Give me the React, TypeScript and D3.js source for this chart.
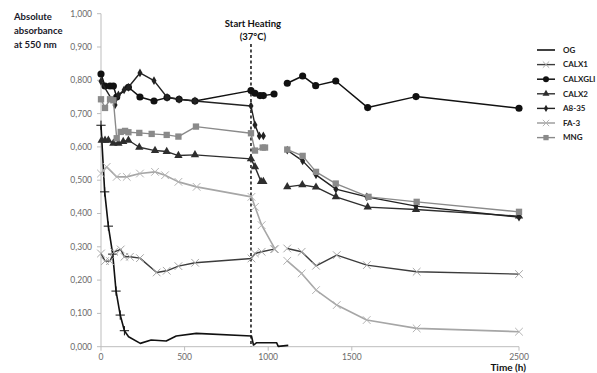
import React from 'react';
import { scaleLinear, line, symbol, symbolCircle, symbolDiamond, symbolTriangle, symbolSquare, symbolTimes, symbolPlus } from 'd3';

type Pt = [number, number | null];

// time (h), absorbance; null marks the gap in measurements
const OG: Pt[] = [[0, 0.665], [22, 0.465], [44, 0.362], [70, 0.278], [90, 0.167], [115, 0.095], [140, 0.048], [165, 0.03], [235, 0.01], [300, 0.02], [390, 0.017], [450, 0.032], [570, 0.04], [900, 0.032], [912, 0.005], [931, 0.012], [1050, 0.012], [1060, 0.001], [1120, 0.004]];
const CALX1: Pt[] = [[0, 0.28], [24, 0.257], [54, 0.257], [78, 0.285], [118, 0.292], [140, 0.27], [173, 0.27], [233, 0.266], [333, 0.223], [393, 0.228], [463, 0.242], [563, 0.252], [900, 0.265], [921, 0.28], [961, 0.285], [1035, 0.293], [1070, null], [1114, 0.295], [1200, 0.285], [1286, 0.243], [1410, 0.275], [1590, 0.245], [1888, 0.225], [2500, 0.218]];
const CALXGLI: Pt[] = [[0, 0.819], [24, 0.783], [54, 0.783], [74, 0.783], [94, 0.75], [164, 0.779], [233, 0.75], [317, 0.738], [395, 0.748], [467, 0.743], [562, 0.738], [897, 0.769], [921, 0.761], [951, 0.754], [971, 0.754], [1035, 0.759], [1070, null], [1114, 0.791], [1206, 0.813], [1284, 0.784], [1404, 0.798], [1595, 0.718], [1884, 0.751], [2500, 0.716]];
const CALX2: Pt[] = [[4, 0.62], [24, 0.62], [44, 0.62], [74, 0.611], [104, 0.611], [133, 0.616], [164, 0.62], [229, 0.599], [323, 0.589], [393, 0.586], [463, 0.574], [562, 0.576], [897, 0.564], [921, 0.54], [957, 0.496], [971, 0.496], [1040, null], [1114, 0.48], [1204, 0.486], [1286, 0.479], [1405, 0.45], [1595, 0.419], [1884, 0.412], [2500, 0.392]];
const A835: Pt[] = [[0, 0.797], [84, 0.726], [104, 0.756], [138, 0.771], [164, 0.779], [233, 0.822], [317, 0.799], [395, 0.749], [467, 0.743], [562, 0.738], [897, 0.723], [921, 0.666], [947, 0.633], [971, 0.633], [1040, null], [1114, 0.59], [1206, 0.558], [1286, 0.516], [1405, 0.473], [1590, 0.45], [1884, 0.422], [2500, 0.389]];
const FA3: Pt[] = [[0, 0.52], [34, 0.54], [94, 0.51], [154, 0.51], [233, 0.52], [323, 0.525], [383, 0.515], [463, 0.495], [572, 0.48], [900, 0.45], [921, 0.42], [961, 0.365], [1041, 0.293], [1070, null], [1114, 0.258], [1200, 0.22], [1286, 0.17], [1410, 0.125], [1589, 0.08], [1888, 0.055], [2500, 0.045]];
const MNG: Pt[] = [[0, 0.743], [24, 0.717], [54, 0.743], [74, 0.74], [94, 0.626], [118, 0.645], [144, 0.648], [164, 0.644], [229, 0.642], [303, 0.639], [393, 0.636], [463, 0.631], [568, 0.661], [897, 0.641], [921, 0.589], [967, 0.598], [981, 0.598], [1040, null], [1114, 0.592], [1206, 0.573], [1286, 0.525], [1404, 0.49], [1600, 0.45], [1888, 0.435], [2500, 0.405]];

const yTicks = [0, 0.1, 0.2, 0.3, 0.4, 0.5, 0.6, 0.7, 0.8, 0.9, 1.0];
const xTicks = [0, 500, 1000, 1500, 2500];
const heatingTime = 897;

const series = [
  { name: 'OG', data: OG, stroke: '#111', width: 1.6, shape: symbolPlus, size: 30, fill: 'none', mstroke: '#111', legendMarker: false, markUntil: 150 },
  { name: 'CALX1', data: CALX1, stroke: '#3c3c3c', width: 1.4, shape: symbolTimes, size: 40, fill: 'none', mstroke: '#a8a8a8', legendMarker: true, markUntil: 9999 },
  { name: 'CALXGLI', data: CALXGLI, stroke: '#111', width: 1.5, shape: symbolCircle, size: 40, fill: '#111', mstroke: 'none', legendMarker: true, markUntil: 9999 },
  { name: 'CALX2', data: CALX2, stroke: '#2e2e2e', width: 1.4, shape: symbolTriangle, size: 30, fill: '#2e2e2e', mstroke: 'none', legendMarker: true, markUntil: 9999 },
  { name: 'A8-35', data: A835, stroke: '#222', width: 1.4, shape: symbolDiamond, size: 22, fill: '#222', mstroke: 'none', legendMarker: true, markUntil: 9999 },
  { name: 'FA-3', data: FA3, stroke: '#a6a6a6', width: 1.6, shape: symbolTimes, size: 40, fill: 'none', mstroke: '#b4b4b4', legendMarker: true, markUntil: 9999 },
  { name: 'MNG', data: MNG, stroke: '#8a8a8a', width: 1.4, shape: symbolSquare, size: 40, fill: '#8a8a8a', mstroke: 'none', legendMarker: true, markUntil: 9999 },
];

const font = 'Lato, "Open Sans", sans-serif';

export default function App() {
  const x = scaleLinear().domain([0, 2500]).range([101, 519]);
  const y = scaleLinear().domain([0, 1]).range([346.7, 13.7]);

  const path = line<Pt>()
    .defined(d => d[1] !== null)
    .x(d => x(d[0]))
    .y(d => y(d[1] as number));

  return (
    <svg width={597} height={373} style={{ position: 'absolute', left: 0, top: 0, background: '#fff' }} fontFamily={font}>
      {/* axes */}
      <line x1={x(0)} x2={x(0)} y1={y(1)} y2={y(0)} stroke="#bdbdbd" />
      <line x1={x(0)} x2={x(2500)} y1={y(0)} y2={y(0)} stroke="#bdbdbd" />
      {yTicks.map(t => (
        <g key={t}>
          <line x1={x(0) - 4} x2={x(0)} y1={y(t)} y2={y(t)} stroke="#bdbdbd" />
          <text x={92} y={y(t)} dy="0.35em" textAnchor="end" fontSize={8.5} fill="#6a6a6a">{t.toFixed(3).replace('.', ',')}</text>
        </g>
      ))}
      {xTicks.map(t => (
        <g key={t}>
          <line x1={x(t)} x2={x(t)} y1={y(0)} y2={y(0) + 4} stroke="#bdbdbd" />
          <text x={x(t)} y={y(0) + 13} textAnchor="middle" fontSize={8.5} fill="#6a6a6a">{t}</text>
        </g>
      ))}
      <text x={14} fontSize={9.5} fontWeight="bold" fill="#1a1a2a">
        <tspan x={14} y={20}>Absolute</tspan>
        <tspan x={14} y={34}>absorbance</tspan>
        <tspan x={14} y={48}>at 550  nm</tspan>
      </text>
      <text x={526} y={371} textAnchor="end" fontSize={10} fontWeight="bold" fill="#111">Time (h)</text>

      {/* heating marker */}
      <line x1={x(heatingTime)} x2={x(heatingTime)} y1={44} y2={y(0)} stroke="#111" strokeWidth={1.5} strokeDasharray="3,2.5" />
      <text x={x(heatingTime) + 2} fontSize={9.5} fontWeight="bold" textAnchor="middle" fill="#111">
        <tspan x={x(heatingTime) + 2} y={27}>Start Heating</tspan>
        <tspan x={x(heatingTime) + 2} y={40}>(37°C)</tspan>
      </text>

      {series.map(s => (
        <g key={s.name}>
          <path d={path(s.data) ?? ''} fill="none" stroke={s.stroke} strokeWidth={s.width} strokeLinejoin="round" />
          {s.data.filter(d => d[1] !== null && d[0] <= s.markUntil).map((d, i) => (
            <path key={i} transform={`translate(${x(d[0])},${y(d[1] as number)})`}
              d={symbol(s.shape, s.size)() ?? ''} fill={s.fill} stroke={s.mstroke} strokeWidth={1} />
          ))}
        </g>
      ))}

      {/* legend */}
      {series.map((s, i) => {
        const ly = 50 + i * 14.6;
        return (
          <g key={s.name}>
            <line x1={537} x2={555} y1={ly} y2={ly} stroke={s.stroke} strokeWidth={s.width} />
            {s.legendMarker && (
              <path transform={`translate(546,${ly})`} d={symbol(s.shape, s.size * 0.7)() ?? ''} fill={s.fill} stroke={s.mstroke} strokeWidth={1} />
            )}
            <text x={563} y={ly} dy="0.35em" fontSize={8} fontWeight="bold" fill="#222">{s.name}</text>
          </g>
        );
      })}
    </svg>
  );
}
